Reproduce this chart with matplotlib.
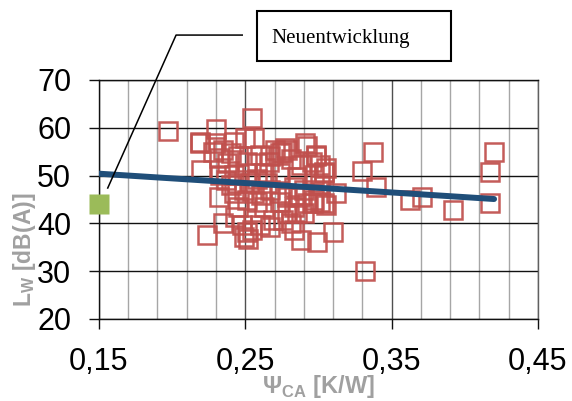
"""
Schallleistung L_W über Wärmewiderstand Psi_CA: Marktübersicht (rote Quadrate),
Trendlinie und die Neuentwicklung (grünes Quadrat) mit Beschriftung.
"""

import matplotlib
matplotlib.use("Agg")
import matplotlib.pyplot as plt
from matplotlib.ticker import MultipleLocator, FuncFormatter
from matplotlib.patches import Rectangle

plt.rcParams["font.family"] = ["Liberation Sans", "DejaVu Sans"]
plt.rcParams["mathtext.fontset"] = "custom"
plt.rcParams["mathtext.rm"] = "Liberation Sans"
plt.rcParams["mathtext.bf"] = "Liberation Sans:bold"

# Marktübersicht: Psi_CA [K/W] und L_W [dB(A)]
psi_markt = [
    0.197, 0.230, 0.2546, 0.219, 0.2295, 0.2557, 0.250, 0.242, 0.2705, 0.291,
    0.292, 0.2785, 0.277, 0.228, 0.235, 0.240, 0.245, 0.260, 0.267, 0.274,
    0.298, 0.298, 0.301, 0.3036, 0.304, 0.288, 0.281, 0.258, 0.251, 0.2375,
    0.232, 0.220, 0.242, 0.251, 0.233, 0.2625, 0.274, 0.285, 0.2967, 0.3375,
    0.330, 0.339, 0.3626, 0.371, 0.392, 0.420, 0.417, 0.417, 0.332, 0.310,
    0.312, 0.299, 0.288, 0.301, 0.305, 0.296, 0.224, 0.235, 0.232, 0.249,
    0.252, 0.251, 0.2546, 0.248, 0.260, 0.267, 0.283, 0.281, 0.276, 0.269,
    0.243, 0.245, 0.251, 0.258, 0.2625, 0.242, 0.249, 0.2557, 0.261, 0.2534,
    0.244, 0.240, 0.2785, 0.274, 0.283, 0.2877, 0.292, 0.2967, 0.3036, 0.2785,
    0.285, 0.290, 0.274, 0.267, 0.283, 0.290, 0.301, 0.237, 0.258, 0.265,
    0.2957, 0.305, 0.266, 0.219, 0.275,
]
lw_markt = [
    59.3, 59.8, 62.0, 56.8, 56.8, 57.8, 57.8, 57.1, 55.4, 56.8,
    56.1, 55.4, 55.7, 55.0, 55.4, 54.7, 54.0, 54.3, 54.0, 54.7,
    54.3, 54.0, 52.2, 50.8, 50.5, 52.2, 53.4, 52.6, 52.9, 52.6,
    53.6, 51.2, 50.1, 50.5, 50.1, 50.5, 50.5, 49.8, 50.1, 54.9,
    51.0, 47.7, 44.9, 45.6, 42.7, 55.0, 50.8, 44.2, 30.0, 38.3,
    46.4, 36.2, 36.5, 44.5, 43.8, 44.2, 37.6, 40.0, 45.6, 37.2,
    36.8, 38.3, 38.6, 39.6, 39.6, 39.3, 38.6, 40.0, 40.7, 40.7,
    41.4, 43.5, 44.9, 44.5, 43.5, 46.3, 47.0, 46.3, 45.9, 48.4,
    48.4, 48.0, 45.6, 44.5, 43.5, 45.6, 44.2, 44.9, 44.2, 42.1,
    42.1, 42.1, 46.3, 47.0, 47.7, 47.0, 48.0, 49.0, 49.3, 48.5,
    52.9, 51.5, 52.9, 57.1, 55.0,
]

# Trendlinie über die Marktgeräte
trend_psi = [0.15, 0.42]
trend_lw = [50.4, 45.1]

# Neuentwicklung
psi_neu = [0.15]
lw_neu = [44.0]
label_neu = "Neuentwicklung"

fig = plt.figure(figsize=(5.72, 4.01), dpi=100)
ax = fig.add_axes([0.173, 0.2045, 0.7675, 0.596])

ax.set_xlim(0.15, 0.45)
ax.set_ylim(20, 70)

ax.xaxis.set_major_locator(MultipleLocator(0.1, offset=0.05))
ax.xaxis.set_minor_locator(MultipleLocator(0.02, offset=0.01))
ax.yaxis.set_major_locator(MultipleLocator(10))
ax.xaxis.set_major_formatter(FuncFormatter(lambda v, p: f"{v:.2f}".replace(".", ",")))

ax.grid(which="minor", axis="x", color="#a6a6a6", lw=1.0)
ax.grid(which="major", axis="x", color="#505050", lw=1.0)
ax.grid(which="major", axis="y", color="#111111", lw=1.0)
ax.set_axisbelow(True)

for side in ["left", "bottom", "top"]:
    ax.spines[side].set_color("#111111")
    ax.spines[side].set_linewidth(1.0)
ax.spines["right"].set_color("#606060")
ax.spines["right"].set_linewidth(1.0)

ax.tick_params(which="major", length=7, width=1.0, color="#111111",
               labelsize=22, pad=13)
ax.tick_params(which="minor", length=0)

ax.plot(psi_markt, lw_markt, linestyle="none", marker="s", markersize=13.3,
        markerfacecolor="none", markeredgecolor="#C0504D", markeredgewidth=1.8,
        alpha=0.93, zorder=3)

ax.plot(trend_psi, trend_lw, color="#1F4E79", lw=4.3, solid_capstyle="round",
        zorder=4)

ax.plot(psi_neu, lw_neu, linestyle="none", marker="s", markersize=14.5,
        markerfacecolor="#9BBB59", markeredgecolor="none", zorder=5,
        clip_on=False)

# Beschriftung der Neuentwicklung mit abgeknickter Hinweislinie
ax.plot([psi_neu[0] + 0.006, 0.2027, 0.2479], [lw_neu[0] + 3.4, 79.4, 79.4],
        color="black", lw=1.1, clip_on=False, zorder=6)
ax.add_patch(Rectangle((0.2582, 73.97), 0.1322, 10.45, fill=False,
                       edgecolor="black", lw=1.5, clip_on=False, zorder=6))
ax.text(0.2678, 77.7, label_neu, family=["Liberation Serif", "DejaVu Serif"],
        fontsize=15, ha="left", va="baseline", zorder=7, clip_on=False)

fig.text(25 / 572, 1 - 250 / 401, r"L$_{\mathbf{W}}$ [dB(A)]", rotation=90,
         ha="center", va="center", fontsize=16.5, fontweight="bold",
         color="#A0A0A0")
fig.text(318 / 572, 8 / 401, r"Ψ$_{\mathbf{CA}}$ [K/W]", ha="center",
         va="baseline", fontsize=17, fontweight="bold", color="#A0A0A0")

fig.savefig("out.png", dpi=100)
